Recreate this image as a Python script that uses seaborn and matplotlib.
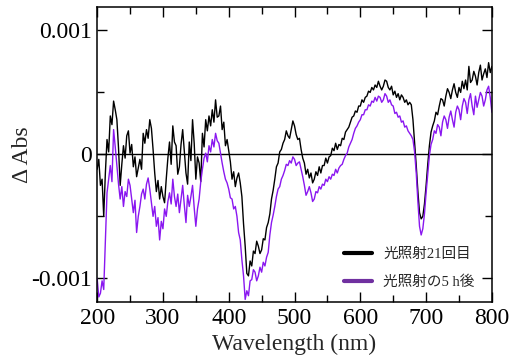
import matplotlib
matplotlib.use("Agg")
import matplotlib.pyplot as plt
import numpy as np
import pandas as pd
import seaborn as sns
from matplotlib.lines import Line2D
from matplotlib.ticker import MultipleLocator, FixedLocator

# ---- data (values in units of 1e-4 Abs), sampled every 2.5 nm ----
wavelength = [200 + 2.5 * i for i in range(241)]

black_e4 = [
    -1.2, -0.4, -2.5, -2.0, -5.0, -1.5, 1.2, 0.2, 3.1, 2.4,
    4.3, 3.6, 2.8, 0.5, -2.5, -0.8, 0.7, -0.3, 1.5, 1.9,
    0.1, 0.8, -1.0, -0.2, -1.8, -1.1, -0.4, -1.2, 1.7, 0.9,
    2.0, 1.3, 2.8, 2.1, 0.4, -1.5, -3.0, -2.1, -3.6, -2.6,
    -3.4, -3.9, -2.0, -0.3, 1.0, -0.8, 2.3, 1.0, 0.7, -1.6,
    -1.0, 0.8, 2.0, 0.2, -1.5, -2.4, 1.0, -0.5, 2.8, 0.9,
    -2.0, -0.2, -0.7, -2.2, 1.7, 0.6, 2.8, 1.9, 3.1, 2.3,
    3.6, 2.6, 4.4, 3.0, 3.1, 3.9, 2.0, 2.6, 0.7, 1.2,
    0.3, -0.6, -2.0, -1.4, -2.6, -1.9, -1.5, -2.3, -3.4, -5.6,
    -7.4, -9.6, -9.8, -8.6, -9.0, -7.8, -8.0, -7.0, -7.4, -8.0,
    -7.7, -6.8, -6.9, -5.9, -5.5, -4.8, -3.6, -2.9, -2.0, -1.0,
    -0.7, 0.2, 0.4, 0.9, 1.2, 1.9, 1.5, 1.3, 2.0, 2.7,
    2.3, 1.6, 1.2, 1.3, 0.4, -0.3, -0.7, -1.6, -1.2, -1.9,
    -1.5, -2.3, -2.0, -1.4, -1.7, -1.0, -1.5, -0.9, -0.9, -0.3,
    -0.7, -0.2, -0.1, 0.5, 0.3, 0.9, 0.4, 0.8, 0.7, 1.3,
    1.2, 1.8, 2.0, 2.2, 2.6, 3.0, 3.1, 3.5, 3.4, 3.9,
    3.9, 4.4, 4.2, 4.6, 4.7, 5.1, 5.0, 5.4, 5.2, 5.6,
    5.4, 5.9, 5.5, 5.2, 5.5, 6.0, 5.9, 5.4, 5.2, 5.5,
    4.8, 5.1, 4.6, 4.9, 4.4, 4.8, 4.6, 4.2, 4.4, 4.0,
    4.2, 4.0, 2.8, 1.0, -0.9, -3.0, -4.7, -5.2, -5.0, -4.0,
    -2.5, -0.8, 0.7, 1.8, 2.3, 2.7, 3.4, 3.2, 3.9, 4.5,
    4.4, 3.9, 4.7, 5.3, 5.0, 4.5, 5.2, 5.7, 5.0, 4.6,
    5.4, 5.0, 5.9, 5.3, 6.0, 5.2, 7.1, 5.8, 6.0, 6.7,
    6.3, 5.6, 6.6, 7.2, 6.0, 6.5, 6.9, 6.2, 7.4, 6.6,
    7.1,
]

purple_e4 = [
    -10.0, -11.5, -11.2, -10.2, -10.9, -7.0, -3.1, -2.0, -0.9, -2.2,
    2.0, 0.6, -0.9, -2.4, -3.6, -2.6, -4.2, -3.0, -3.4, -2.0,
    -2.5, -3.6, -4.7, -3.7, -6.3, -5.0, -4.2, -3.2, -2.8, -3.6,
    -2.4, -1.9, -2.8, -3.9, -5.0, -4.2, -5.8, -5.1, -6.9, -5.4,
    -6.0, -4.4, -5.0, -3.8, -3.1, -4.0, -2.0, -3.4, -4.2, -3.2,
    -4.7, -3.6, -2.5, -4.1, -5.5, -3.3, -4.2, -3.4, -2.5, -4.3,
    -5.8, -4.4, -3.6, -2.2, -1.2, -0.3, 0.1, -0.6, 0.7, 0.2,
    1.2, 0.6, 1.7, 1.1, 0.9, 0.1, -0.7, -1.4, -2.0, -2.3,
    -2.8, -3.5, -3.6, -4.4, -4.2, -5.0, -6.3, -6.9, -8.5, -9.8,
    -11.7, -11.0, -11.4, -10.2, -10.1, -9.3, -9.5, -10.2, -9.8, -9.1,
    -9.5, -8.7, -9.0, -8.3, -7.9, -6.5, -5.5, -4.9, -4.2, -3.4,
    -2.8, -2.6, -2.0, -1.7, -1.3, -0.8, -0.9, -0.5, -0.7, -0.2,
    -0.4, -0.9, -0.7, -0.6, -1.2, -1.8, -2.5, -3.3, -3.0, -2.6,
    -3.1, -3.8, -3.6, -3.0, -3.1, -2.6, -2.8, -2.4, -2.5, -2.0,
    -2.2, -1.8, -2.0, -1.6, -1.7, -1.2, -1.5, -1.1, -0.9, -0.8,
    -0.4, -0.1, 0.1, 0.6, 0.9, 1.2, 1.7, 2.1, 2.3, 2.6,
    2.8, 3.2, 3.2, 3.6, 3.6, 4.0, 3.9, 4.3, 4.2, 4.6,
    4.3, 4.7, 4.6, 4.2, 4.4, 4.9, 4.7, 4.2, 4.4, 4.0,
    3.9, 3.3, 3.4, 3.0, 3.1, 2.6, 2.7, 2.2, 2.3, 1.9,
    1.7, 1.5, 1.2, 0.2, -1.5, -3.8, -5.8, -6.5, -6.0, -4.8,
    -3.1, -1.6, -0.1, 0.8, 1.2, 1.9, 1.7, 2.4, 2.2, 1.5,
    2.6, 3.1, 2.8, 2.1, 3.0, 3.5, 2.8, 2.2, 3.4, 3.9,
    3.6, 2.8, 3.9, 4.5, 4.2, 3.3, 4.4, 4.9, 3.9, 3.2,
    4.7, 3.8, 4.4, 5.0, 4.7, 3.9, 4.4, 5.2, 5.5, 4.6,
    3.4,
]

labels = ["光照射21回目", "光照射の5 h後"]
x_ticks = [200, 300, 400, 500, 600, 700, 800]
y_ticks = [-0.001, 0, 0.001]
y_tick_labels = ["-0.001", "0", "0.001"]

# ---- style ----
sns.set_style("ticks")
plt.rcParams["font.family"] = ["Liberation Serif", "Noto Sans CJK JP"]
plt.rcParams["mathtext.fontset"] = "stix"

line_black = "#000000"
line_purple = "#8a17f0"
legend_purple = "#7030a0"

df = pd.DataFrame({
    "wl": wavelength * 2,
    "dA": [v * 1e-4 for v in black_e4] + [v * 1e-4 for v in purple_e4],
    "series": [labels[0]] * len(wavelength) + [labels[1]] * len(wavelength),
})

fig = plt.figure(figsize=(5.14, 3.62), dpi=100)
ax = fig.add_axes([0.189, 0.166, 0.768, 0.815])

ax.axhline(0, color="black", lw=1.0, zorder=1)
sns.lineplot(data=df, x="wl", y="dA", hue="series",
             palette={labels[0]: line_black, labels[1]: line_purple},
             hue_order=labels, lw=1.0, ax=ax, legend=False, sort=False)

ax.set_xlim(200, 800)
ax.set_ylim(-0.00119, 0.00119)
ax.xaxis.set_major_locator(FixedLocator(x_ticks))
ax.xaxis.set_minor_locator(MultipleLocator(50))
ax.yaxis.set_major_locator(FixedLocator(y_ticks))
ax.set_yticklabels(y_tick_labels)
ax.yaxis.set_minor_locator(MultipleLocator(0.0005))

ax.tick_params(which="both", direction="in", top=True, right=True,
               width=1.0, labelsize=17, colors="black")
ax.tick_params(which="major", length=7)
ax.tick_params(which="minor", length=5)
ax.tick_params(axis="x", which="major", pad=4.5)
ax.tick_params(axis="y", which="major", pad=3.5)
for s in ax.spines.values():
    s.set_linewidth(1.1)
    s.set_color("black")

ax.set_xlabel("Wavelength (nm)", fontsize=17, labelpad=3)
ax.set_ylabel("Δ Abs", fontsize=17)
ax.yaxis.set_label_coords(-0.162, 0.5)

handles = [Line2D([], [], color=line_black, lw=3),
           Line2D([], [], color=legend_purple, lw=3)]
ax.legend(handles, labels, loc="lower right", bbox_to_anchor=(0.99, 0.0),
          frameon=False, handlelength=1.9, handletextpad=0.8, labelspacing=0.95,
          prop={"family": ["Liberation Serif", "Noto Sans CJK JP"], "size": 10.5})

fig.savefig("out.png", dpi=100)
